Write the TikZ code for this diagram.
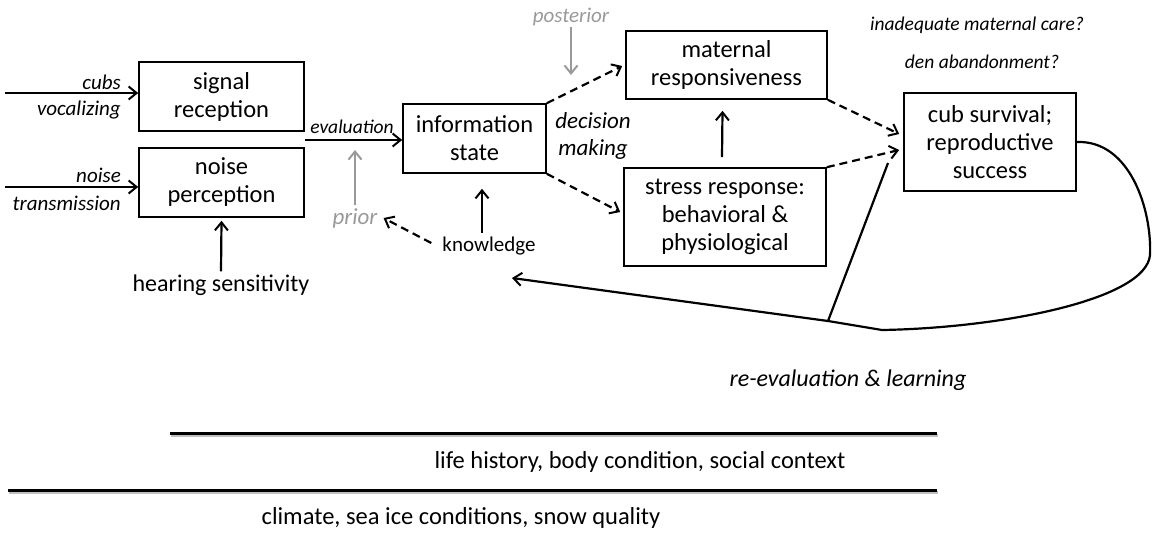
\documentclass[tikz,border=0pt]{standalone}
\usepackage{fontspec}
\setmainfont{Carlito}
\usetikzlibrary{arrows.meta,calc}
\definecolor{lgray}{HTML}{999999}
\begin{document}
\begin{tikzpicture}[x=1pt,y=-1pt,
  box/.style={draw,line width=1.6pt,inner sep=0pt,align=center,font=\fontsize{24.5}{28}\selectfont},
  lab/.style={inner sep=1pt,align=center,font=\fontsize{21}{26}\selectfont\itshape},
  txt/.style={inner sep=1pt,align=center,font=\fontsize{24}{28}\selectfont},
  arr/.style={line width=2.2pt,-{Straight Barb[length=8pt,width=13pt,line width=2pt]}},
  darr/.style={arr,dash pattern=on 8pt off 5pt},
  garr/.style={arr,lgray},
  base/.style={line width=3pt},
  shade/.style={line width=3pt,black!25}]
\useasboundingbox (0,0) rectangle (1155,533);
% boxes
\node[box,minimum width=165pt,minimum height=69pt] (signal) at (221.5,96.5) {signal\\reception};
\node[box,minimum width=165pt,minimum height=69pt] (noise) at (221.5,182.5) {noise\\perception};
\node[box,minimum width=143pt,minimum height=69pt] (info) at (474.5,138.5) {information\\state};
\node[box,minimum width=201pt,minimum height=68pt] (maternal) at (726.5,65) {maternal\\responsiveness};
\node[box,minimum width=202pt,minimum height=98pt] (stress) at (725,217) {stress response:\\behavioral \&\\physiological};
\node[box,minimum width=172pt,minimum height=98pt] (cub) at (990,142) {cub survival;\\reproductive\\success};
% labels
\node[lab,anchor=east] (cubs) at (122,82) {cubs};
\node[lab,anchor=east] (vocal) at (122,110) {vocalizing};
\node[lab,anchor=east] (noiselab) at (122,175) {noise};
\node[lab,anchor=east] (trans) at (122,203) {transmission};
\node[txt] (hearing) at (221,285) {hearing sensitivity};
\node[lab,font=\fontsize{19.5}{24}\selectfont\itshape] (evallab) at (352,127) {evaluation};
\node[lab,text=lgray,font=\fontsize{23}{26}\selectfont\itshape] (prior) at (355,218) {prior};
\node[txt,font=\fontsize{21}{26}\selectfont] (knowledge) at (489,246) {knowledge};
\node[lab,text=lgray] (posterior) at (571,17) {posterior};
\node[lab,font=\fontsize{23}{27}\selectfont\itshape] (decision) at (593,136) {decision\\making};
\node[lab,font=\fontsize{19.5}{24}\selectfont\itshape] (inadequate) at (977,25) {inadequate maternal care?};
\node[lab,font=\fontsize{19.5}{24}\selectfont\itshape] (den) at (982,62) {den abandonment?};
\node[lab,font=\fontsize{24}{28}\selectfont\itshape] (reeval) at (848,380) {re-evaluation \& learning};
\node[txt,font=\fontsize{24.5}{28}\selectfont] (life) at (640,462) {life history, body condition, social context};
\node[txt,font=\fontsize{24.5}{28}\selectfont] (climate) at (461,518) {climate, sea ice conditions, snow quality};
% coordinates
\coordinate (cubsIn) at (5,93);
\coordinate (noiseIn) at (5,187);
\coordinate (evalStart) at (305,140);
\coordinate (priorTip) at (355,150);
\coordinate (postTip) at (571,75);
\coordinate (fbA) at (882,330);
\coordinate (fbB) at (828,321);
\coordinate (fbUp) at (888,163);
\coordinate (fbEnd) at (512,278);
% input arrows
\draw[arr] (cubsIn) -- (signal.west |- cubsIn);
\draw[arr] (noiseIn) -- (noise.west |- noiseIn);
\draw[arr] ($(hearing.north)+(0,-2)$) -- ($(noise.south)+(0,3)$);
\draw[arr] (evalStart) -- (info.west |- evalStart);
\draw[garr] ($(prior.north)+(0,-2)$) -- (priorTip);
\draw[arr] ($(info.south)+(7.5,59)$) -- ($(info.south)+(7.5,15)$);
\draw[darr] ($(knowledge.west)+(-10,-3)$) -- ($(prior.east)+(5,0)$);
\draw[garr] (posterior.south) -- (postTip);
% decision arrows
\draw[darr] (info.north east) -- ($(maternal.west)+(-3,1)$);
\draw[darr] (info.south east) -- ($(stress.west)+(-3,-5)$);
\draw[arr] ($(stress.north)+(-3,-10)$) -- ($(maternal.south)+(-4,11)$);
\draw[darr] (maternal.south east) -- ($(cub.west)+(-4,-8)$);
\draw[darr] (stress.north east) -- ($(cub.west)+(-4,8)$);
% feedback loop
\draw[line width=2.2pt] (cub.east) .. controls (1130,140) and (1152,210) .. (1150,255)
   .. controls (1146,300) and (1000,328) .. (fbA) -- (fbB);
\draw[arr] (fbB) -- (fbEnd);
\draw[line width=2.2pt] (fbB) -- (fbUp);
% baselines
\draw[shade] (171,435.5) -- (938,435.5);
\draw[base] (170,433) -- (937,433);
\draw[shade] (9,492.5) -- (938,492.5);
\draw[base] (8,490) -- (937,490);
\end{tikzpicture}
\end{document}
